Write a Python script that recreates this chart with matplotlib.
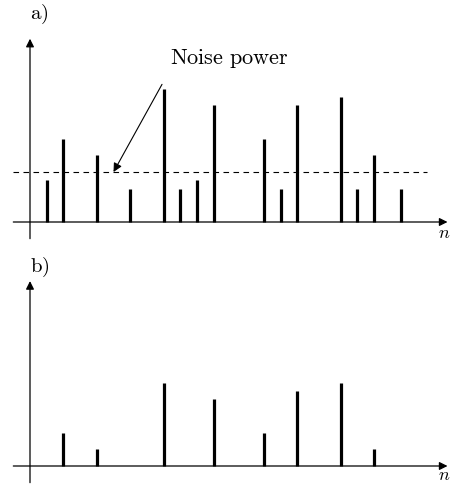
import numpy as np
import matplotlib.pyplot as plt

plt.rcParams['mathtext.fontset'] = 'cm'
plt.rcParams['font.family'] = 'serif'
plt.rcParams['font.serif'] = ['DejaVu Serif']

# panel a: all components
n_a = [1, 2, 4, 6, 8, 9, 10, 11, 14, 15, 16, 18.6, 19.6, 20.6, 22.2]
p_a = [5, 10, 8, 4, 16, 4, 5, 14, 10, 4, 14, 15, 4, 8, 4]
noise_level = 6

# panel b: components above the noise, minus noise
n_b = [2, 4, 8, 11, 14, 16, 18.6, 20.6]
p_b = [4, 2, 10, 8, 4, 9, 10, 2]

W, H = 450, 485
fig = plt.figure(figsize=(4.5, 4.85), dpi=100)

# px per unit
sx, sy = 16.7, 8.33
x0 = 30


def make_axes(top_px, bot_px, base_px):
    ax = fig.add_axes([0, 1 - bot_px / H, 1, (bot_px - top_px) / H])
    ax.set_xlim((0 - x0) / sx, (W - x0) / sx)
    ax.set_ylim((base_px - bot_px) / sy, (base_px - top_px) / sy)
    ax.axis('off')
    return ax


def draw_frame(ax, ytop, ylab):
    arrow = dict(arrowstyle='-|>', color='black', lw=0.9,
                 mutation_scale=12, shrinkA=0, shrinkB=0)
    ax.annotate('', xy=(25.0, 0), xytext=(-1.0, 0), arrowprops=arrow)
    ax.annotate('', xy=(0, ytop), xytext=(0, -2.0), arrowprops=arrow)
    ax.text(24.45, ylab, r'$n$', fontsize=13, ha='left', va='center')


ax1 = make_axes(0, 250, 223)
draw_frame(ax1, 22.0, -1.2)
ax1.vlines(n_a, 0, p_a, colors='black', lw=2.3)
ax1.plot([-1.0, 23.8], [noise_level, noise_level], ls=(0, (5, 4)),
         color='black', lw=0.8)
ax1.text(0.0, 25.0, r'$\mathrm{a)}$', fontsize=15, ha='left', va='center')
ax1.annotate(r'$\mathrm{Noise\ power}$', xy=(5.0, noise_level),
             xytext=(8.4, 19.7), fontsize=16, ha='left', va='center',
             arrowprops=dict(arrowstyle='-|>', color='black', lw=0.8,
                             mutation_scale=13, shrinkA=10, shrinkB=0,
                             relpos=(0, 0)))

ax2 = make_axes(250, 485, 467)
draw_frame(ax2, 22.2, -0.95)
ax2.vlines(n_b, 0, p_b, colors='black', lw=2.3)
ax2.text(0.0, 24.0, r'$\mathrm{b)}$', fontsize=15, ha='left', va='center')

fig.savefig('out.png', dpi=100)
